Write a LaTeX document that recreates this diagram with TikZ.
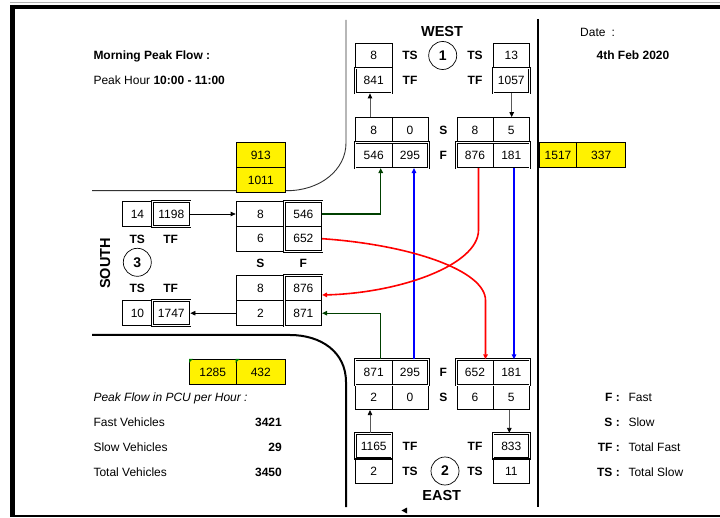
\documentclass[tikz,border=0pt]{standalone}
\usepackage{fontspec}
\setmainfont{Liberation Sans}
\usetikzlibrary{arrows.meta}
\definecolor{dgreen}{RGB}{0,64,0}
\definecolor{cgreen}{RGB}{0,128,0}
\definecolor{xred}{RGB}{255,0,0}
\definecolor{xblue}{RGB}{0,0,255}
\begin{document}
\begin{tikzpicture}[x=1pt,y=-1pt,
  font=\fontsize{12}{14}\selectfont,
  cell/.style={draw, line width=0.7pt, minimum width=36.3pt, minimum height=25pt, inner sep=0pt, text height=8.6pt, text depth=0pt},
  dcell/.style={cell, line width=0.8pt, double, double distance=0.9pt},
  dbl/.style={draw, line width=0.8pt, double, double distance=0.9pt},
  ycell/.style={cell, fill=yellow},
  lab/.style={inner sep=0pt, text height=8.6pt, text depth=0pt, font=\fontsize{12}{14}\selectfont\bfseries},
  txt/.style={inner sep=0pt, text height=8.6pt, text depth=0pt},
  big/.style={inner sep=0pt, text height=10.4pt, text depth=0pt, font=\fontsize{14.5}{16}\selectfont\bfseries},
  circ/.style={draw, circle, line width=0.7pt, minimum size=28pt, inner sep=0pt, font=\fontsize{14}{16}\selectfont\bfseries},
  tip/.style={-{Triangle[length=5pt,width=4.5pt]}},
  garrow/.style={draw=gray!70!black, line width=0.8pt, -{Triangle[length=5pt,width=4.5pt,color=black]}},
  karrow/.style={draw=black, line width=0.7pt, -{Triangle[length=5pt,width=4.5pt]}},
  gline/.style={draw=dgreen, line width=1.5pt, tip},
  glinethin/.style={draw=dgreen, line width=0.9pt, tip},
  bline/.style={draw=xblue, line width=1.6pt, tip},
  rline/.style={draw=xred, line width=1.6pt, tip}
]
\useasboundingbox (0,0) rectangle (720,518);
\fill[white] (0,0) rectangle (720,518);

% frame
\draw[gray!60, line width=0.8pt] (10,2) -- (720,2);
\draw[black, line width=4pt] (10,7) -- (720,7);
\draw[black, line width=4.5pt] (12.5,5) -- (12.5,517);
\draw[black, line width=2pt] (10,516) -- (720,516);

% roads
\draw[gray!40!black, line width=0.9pt] (346,20) -- (346,143) .. controls (346,170) and (320,190.7) .. (287,190.7) -- (92,190.7);
\draw[black, line width=2pt] (92,335) -- (290,335) .. controls (321,335) and (346,352) .. (346,382) -- (346,507);
\draw[black, line width=2pt] (538,19) -- (538,507);
\fill[black] (401.5,510.5) -- (407,507.5) -- (407,513.5) -- cycle;

% texts top-left and date
\node[txt, anchor=west, font=\fontsize{12}{14}\selectfont\bfseries] (mpf) at (93.3,55.7) {Morning Peak Flow :};
\node[txt, anchor=west] (ph) at (93.3,80.7) {Peak Hour \textbf{10:00 - 11:00}};
\node[txt, anchor=west] (date) at (580,32.3) {Date\hspace{6pt}:};
\node[lab] (dval) at (633,55) {4th Feb 2020};

% WEST
\node[big] (west) at (442,31.7) {WEST};
\node[cell] (wTS1) at (373.7,55.5) {8};
\node[dcell] (wTF1) at (373.7,80.5) {841};
\node[cell] (wTS2) at (511.3,55.5) {13};
\node[dcell] (wTF2) at (511.3,80.5) {1057};
\node[lab] (wl1) at (410,55.5) {TS};
\node[lab] (wl2) at (410,80.5) {TF};
\node[lab] (wl3) at (475,55.5) {TS};
\node[lab] (wl4) at (475,80.5) {TF};
\node[circ] (c1) at (442.7,55.5) {1};
\node[cell] (wS8) at (373.7,130) {8};
\node[cell] (wS0) at (410,130) {0};
\node[cell] (wS8b) at (475,130) {8};
\node[cell] (wS5) at (511.3,130) {5};
\node[cell] (wF546) at (373.7,155.2) {546};
\node[cell] (wF295) at (410,155.2) {295};
\node[cell] (wF876) at (475,155.2) {876};
\node[cell] (wF181) at (511.3,155.2) {181};
\draw[dbl] (wF546.north west) rectangle (wF295.south east);
\draw[dbl] (wF876.north west) rectangle (wF181.south east);
\node[lab] (wS) at (443.3,130) {S};
\node[lab] (wF) at (443.3,155.5) {F};
\draw[garrow] ([xshift=-3.7pt]wS8.north) -- ([xshift=-3.7pt]wTF1.south);
\draw[garrow] ([xshift=0.4pt]wTF2.south) -- ([xshift=0.4pt]wS5.north);

% SOUTH
\node[cell, minimum width=30.4pt] (s14) at (137.5,214) {14};
\node[dcell, minimum width=37.3pt] (s1198) at (171.3,214) {1198};
\node[cell, minimum width=49pt, minimum height=24.7pt] (sS8) at (260.5,214) {8};
\node[cell, minimum width=36.7pt, minimum height=24.7pt] (s546) at (303.35,214) {546};
\node[cell, minimum width=49pt, minimum height=24.7pt] (sS6) at (260.5,238.7) {6};
\node[cell, minimum width=36.7pt, minimum height=24.7pt] (s652) at (303.35,238.7) {652};
\draw[dbl] (s546.north west) rectangle (s652.south east);
\node[lab] (sl1) at (137.3,239) {TS};
\node[lab] (sl2) at (170.7,239) {TF};
\node[circ] (c3) at (137.3,262.3) {3};
\node[big, rotate=90] (south) at (105,263.3) {SOUTH};
\node[lab] (sS) at (260.3,263.3) {S};
\node[lab] (sF) at (303.3,263.3) {F};
\node[lab] (sl3) at (137.3,288.3) {TS};
\node[lab] (sl4) at (170.7,288.3) {TF};
\node[cell, minimum width=49pt] (sS8b) at (260.5,288.2) {8};
\node[cell, minimum width=36.7pt] (s876) at (303.35,288.2) {876};
\node[cell, minimum width=49pt] (sS2) at (260.5,313.2) {2};
\node[cell, minimum width=36.7pt] (s871) at (303.35,313.2) {871};
\draw[dbl] (s876.north west) rectangle (s871.south east);
\node[cell, minimum width=30.4pt] (s10) at (137.5,313.2) {10};
\node[dcell, minimum width=37.3pt] (s1747) at (171.3,313.2) {1747};
\draw[karrow] (s1198.east) -- (sS8.west);
\draw[karrow] (sS2.west) -- (s1747.east);

% EAST
\node[cell] (eF871) at (373.7,372.2) {871};
\node[cell] (eF295) at (410,372.2) {295};
\node[cell] (eF652) at (475,372.2) {652};
\node[cell] (eF181) at (511.3,372.2) {181};
\node[cell] (eS2) at (373.7,397.2) {2};
\node[cell] (eS0) at (410,397.2) {0};
\node[cell] (eS6) at (475,397.2) {6};
\node[cell] (eS5) at (511.3,397.2) {5};
\draw[dbl] (eF871.north west) rectangle (eF295.south east);
\draw[dbl] (eF652.north west) rectangle (eF181.south east);
\node[lab] (eF) at (443.3,372.2) {F};
\node[lab] (eS) at (443.3,397.2) {S};
\node[dcell] (e1165) at (373.7,445.8) {1165};
\node[cell] (e2) at (373.7,470.8) {2};
\node[dcell] (e833) at (511.3,445.8) {833};
\node[cell] (e11) at (511.3,470.8) {11};
\node[lab] (el1) at (410,445.8) {TF};
\node[lab] (el2) at (410,470.8) {TS};
\node[lab] (el3) at (475,445.8) {TF};
\node[lab] (el4) at (475,470.8) {TS};
\node[circ] (c2) at (445,471) {2};
\node[big] (east) at (441.7,495.7) {EAST};
\draw[garrow] ([xshift=-3.7pt]e1165.north) -- ([xshift=-3.7pt]eS2.south);
\draw[garrow] ([xshift=-2pt]eS5.south) -- ([xshift=-2pt]e833.north);

% coloured flows
\draw[gline] (s546.east) -| ([xshift=7pt]wF546.south);
\draw[glinethin] ([xshift=6.3pt]eF871.north) |- (s871.east);
\draw[bline] ([xshift=4pt]eF295.north) -- ([xshift=4pt]wF295.south);
\draw[bline] ([xshift=2.7pt]wF181.south) -- ([xshift=2.7pt]eF181.north);
\draw[rline] ([xshift=3.5pt]wF876.south) -- ++(0,62) .. controls +(0,35) and +(78,-2) .. ([yshift=-6.8pt]s876.east);
\draw[rline] (s652.east) .. controls +(88,6) and +(0,-30) .. ([xshift=10.5pt,yshift=59pt]eF652.north) -- ([xshift=10.5pt]eF652.north);

% yellow boxes
\node[ycell, minimum width=49.7pt, minimum height=24.6pt] (y913) at (260.8,155) {913};
\node[ycell, minimum width=49.7pt, minimum height=24.6pt] (y1011) at (260.8,179.8) {1011};
\node[ycell, minimum width=37.4pt, minimum height=24.6pt] (y1517) at (558,155) {1517};
\node[ycell, minimum width=49pt, minimum height=24.6pt] (y337) at (601.2,155) {337};
\node[ycell, minimum width=46.7pt, minimum height=25pt] (y1285) at (212.7,371.8) {1285};
\node[ycell, minimum width=49.7pt, minimum height=25pt] (y432) at (260.8,371.8) {432};
\fill[cgreen] (y1285.north west) -- ++(4,0) -- ++(-4,4) -- cycle;
\fill[cgreen] (y432.north west) -- ++(4,0) -- ++(-4,4) -- cycle;

% bottom-left summary
\node[txt, anchor=west, font=\fontsize{12}{14}\selectfont\itshape] (pf) at (93.3,397.3) {Peak Flow in PCU per Hour :};
\node[txt, anchor=west] (fv) at (93.3,421.7) {Fast Vehicles};
\node[txt, anchor=west] (sv) at (93.3,446.7) {Slow Vehicles};
\node[txt, anchor=west] (tv) at (93.3,471.7) {Total Vehicles};
\node[lab, anchor=east] (fvn) at (282,421.7) {3421};
\node[lab, anchor=east] (svn) at (282,446.7) {29};
\node[lab, anchor=east] (tvn) at (282,471.7) {3450};

% legend
\node[lab, anchor=east] (kF) at (620,396.7) {F :};
\node[lab, anchor=east] (kS) at (620,421.7) {S :};
\node[lab, anchor=east] (kTF) at (620,446.7) {TF :};
\node[lab, anchor=east] (kTS) at (620,471.7) {TS :};
\node[txt, anchor=west] (dF) at (628.3,396.7) {Fast};
\node[txt, anchor=west] (dS) at (628.3,421.7) {Slow};
\node[txt, anchor=west] (dTF) at (628.3,446.7) {Total Fast};
\node[txt, anchor=west] (dTS) at (628.3,471.7) {Total Slow};
\end{tikzpicture}
\end{document}
